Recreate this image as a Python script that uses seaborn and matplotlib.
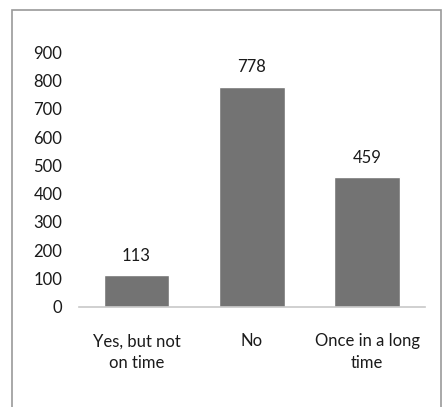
import pandas as pd
import seaborn as sns
import matplotlib.pyplot as plt
from matplotlib.patches import Rectangle

categories = ['Yes, but not\non time', 'No', 'Once in a long\ntime']
counts = [113, 778, 459]
yticks = [0, 100, 200, 300, 400, 500, 600, 700, 800, 900]

df = pd.DataFrame({'answer': categories, 'count': counts})

sns.set_style('white')
plt.rcParams['font.family'] = ['Lato', 'DejaVu Sans']

fig = plt.figure(figsize=(4.43, 4.07), dpi=100)
ax = fig.add_axes([0.178, 0.246, 0.781, 0.626])

sns.barplot(data=df, x='answer', y='count', color='#737373', saturation=1,
            width=0.57, ax=ax)

for i, v in enumerate(counts):
    ax.text(i, v + 40, str(v), ha='center', va='bottom', fontsize=12, color='#1a1a1a')

ax.set_xlim(-0.5, 2.5)
ax.set_ylim(0, 900)
ax.set_yticks(yticks)
ax.set_xlabel('')
ax.set_ylabel('')
ax.tick_params(axis='y', length=0, pad=12, labelsize=12, labelcolor='#1a1a1a')
ax.tick_params(axis='x', length=0, pad=19, labelsize=12, labelcolor='#1a1a1a')
for lab in ax.get_xticklabels():
    lab.set_linespacing(1.45)
for s in ['left', 'right', 'top']:
    ax.spines[s].set_visible(False)
ax.spines['bottom'].set_color('#c8c8c8')
ax.spines['bottom'].set_linewidth(1.2)

# chart frame
fig.patches.append(Rectangle((12 / 443, -0.1), 429 / 443, 1.1 - 10 / 407,
                             transform=fig.transFigure, fill=False,
                             edgecolor='#9a9a9a', linewidth=1.2))

fig.savefig('out.png', dpi=100)
